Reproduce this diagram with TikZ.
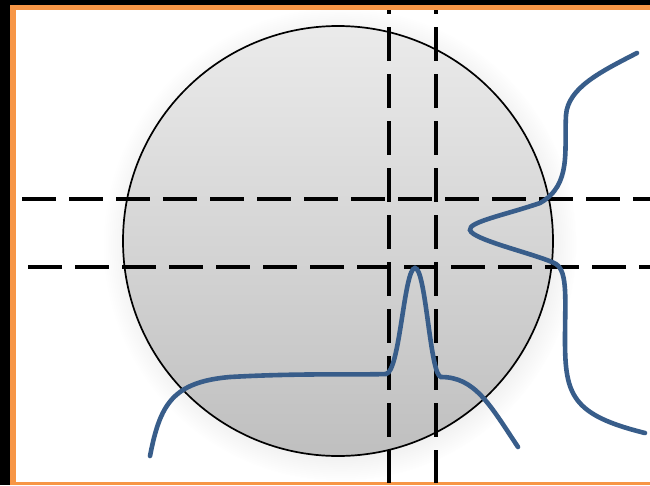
\documentclass[tikz,border=0pt]{standalone}
\definecolor{FrameOrange}{RGB}{247, 150, 70}
\definecolor{CurveBlue}{RGB}{56, 93, 138}
\usepackage{tikz}
\usetikzlibrary{shadows}

\begin{document}
\begin{tikzpicture}[x=1pt, y=-1pt,
		cutline/.style={line width=3.6pt, dash pattern=on 34pt off 13pt},
		profile/.style={CurveBlue, line width=4.6pt, line cap=round}]
	% frame
	\fill[black] (0,0) rectangle (650,485);
	\fill[FrameOrange] (10,5) rectangle (650,485);
	\fill[white] (16,10) rectangle (650,482);
	\useasboundingbox (0,0) rectangle (650,485);
	% object
	\node[circle, draw, line width=1.7pt, minimum size=430pt, inner sep=0pt,
		top color=black!8, bottom color=black!25,
		circular drop shadow={shadow xshift=2pt, shadow yshift=-3pt, opacity=0.15}]
		(disc) at (338,241) {};
	% cuts
	\begin{scope}
		\clip (16,10) rectangle (650,482);
		\draw[cutline] (22,199) coordinate (h1a) -- (650,199) coordinate (h1b);
		\draw[cutline] (28,267) coordinate (h2a) -- (650,267) coordinate (h2b);
		\draw[cutline] (389,-20) coordinate (v1a) -- (389,490) coordinate (v1b);
		\draw[cutline] (436,-20) coordinate (v2a) -- (436,490) coordinate (v2b);
	\end{scope}
	% profiles
	\draw[profile] (150,456) .. controls (160,405) and (172,382) .. (230,377)
		.. controls (300,373) and (360,375) .. (386,374)
		.. controls (400,372) and (404,268) .. (415,268)
		.. controls (426,268) and (430,376) .. (441,377)
		.. controls (475,377) and (490,405) .. (518,447);
	\draw[profile] (637,53) .. controls (600,72) and (568,88) .. (566,115)
		.. controls (564,150) and (572,185) .. (540,203)
		.. controls (505,215) and (468,222) .. (470,230)
		.. controls (472,240) and (540,255) .. (556,264)
		.. controls (568,272) and (565,300) .. (565,340)
		.. controls (565,395) and (572,415) .. (645,433);
\end{tikzpicture}
\end{document}
